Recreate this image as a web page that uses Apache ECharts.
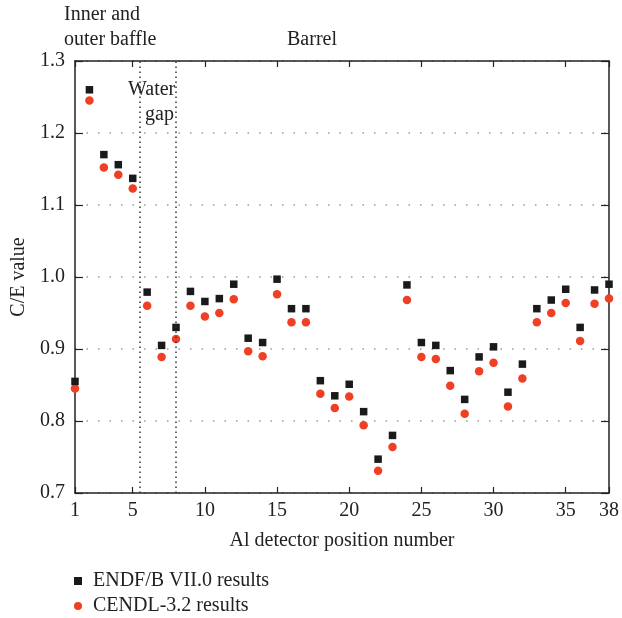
<!DOCTYPE html>
<html>
<head>
<meta charset="utf-8">
<script src="https://cdn.jsdelivr.net/npm/echarts@6/dist/echarts.min.js"></script>
<style>html,body{margin:0;padding:0;background:#fff}#c{width:622px;height:618px}</style>
</head>
<body>
<div id="c"></div>
<script>
const positions = [1,2,3,4,5,6,7,8,9,10,11,12,13,14,15,16,17,18,19,20,21,22,23,24,25,26,27,28,29,30,31,32,33,34,35,36,37,38];
const endfValues = [0.855,1.260,1.170,1.156,1.137,0.979,0.905,0.930,0.980,0.966,0.970,0.990,0.915,0.909,0.997,0.956,0.956,0.856,0.835,0.851,0.813,0.747,0.780,0.989,0.909,0.905,0.870,0.830,0.889,0.903,0.840,0.879,0.956,0.968,0.983,0.930,0.982,0.990];
const cendlValues = [0.845,1.245,1.152,1.142,1.123,0.960,0.889,0.914,0.960,0.945,0.950,0.969,0.897,0.890,0.976,0.937,0.937,0.838,0.818,0.834,0.794,0.731,0.764,0.968,0.889,0.886,0.849,0.810,0.869,0.881,0.820,0.859,0.937,0.950,0.964,0.911,0.963,0.970];
const xTickValues = [1,5,10,15,20,25,30,35,38];
const regionLines = [5.5, 8];
const seriesNames = ['ENDF/B VII.0 results','CENDL-3.2 results'];

const FONT = '"Liberation Serif","DejaVu Serif",serif';
const FS = 20;
const chart = echarts.init(document.getElementById('c'));
const pair = (ys) => positions.map((x,i)=>[x, ys[i]]);
const legendText = {fontFamily: FONT, fontSize: FS, color: '#222', padding: [0, 0, 0, 6]};

chart.setOption({
  animation: false,
  backgroundColor: '#fff',
  textStyle: {fontFamily: FONT},
  grid: {left: 75, right: 11, top: 61, bottom: 125, containLabel: false},
  xAxis: [{
    type: 'value', min: 1, max: 38, position: 'bottom',
    name: 'Al detector position number', nameLocation: 'middle', nameGap: 38,
    nameTextStyle: {fontFamily: FONT, fontSize: FS, color: '#222'},
    axisLine: {lineStyle: {color: '#222', width: 1.5}},
    axisTick: {inside: true, length: 6, lineStyle: {color: '#222', width: 1.2}, customValues: xTickValues},
    axisLabel: {fontFamily: FONT, fontSize: FS, color: '#222', margin: 8, customValues: xTickValues},
    splitLine: {show: false}
  },{
    type: 'value', min: 1, max: 38, position: 'top',
    axisLine: {lineStyle: {color: '#222', width: 1.5}},
    axisTick: {inside: true, length: 6, lineStyle: {color: '#222', width: 1.2}, customValues: xTickValues},
    axisLabel: {show: false},
    splitLine: {show: false}
  }],
  yAxis: [{
    type: 'value', min: 0.7, max: 1.3, interval: 0.1, position: 'left',
    name: 'C/E value', nameLocation: 'middle', nameGap: 46, nameRotate: 90,
    nameTextStyle: {fontFamily: FONT, fontSize: FS, color: '#222'},
    axisLine: {show: true, lineStyle: {color: '#222', width: 1.5}},
    axisTick: {show: true, inside: true, length: 8, lineStyle: {color: '#222', width: 1.2}},
    axisLabel: {fontFamily: FONT, fontSize: FS, color: '#222', margin: 10, formatter: v => v.toFixed(1)},
    splitLine: {show: true, lineStyle: {color: '#999', type: [1.5, 10], width: 1.5}}
  },{
    type: 'value', min: 0.7, max: 1.3, interval: 0.1, position: 'right',
    axisLine: {show: true, lineStyle: {color: '#222', width: 1.5}},
    axisTick: {show: true, inside: true, length: 8, lineStyle: {color: '#222', width: 1.2}},
    axisLabel: {show: false},
    splitLine: {show: false}
  }],
  legend: [{
    left: 74, top: 571, padding: 0, itemWidth: 8, itemHeight: 8, itemGap: 0,
    textStyle: legendText,
    data: [{name: seriesNames[0], icon: 'rect'}]
  },{
    left: 74, top: 596, padding: 0, itemWidth: 8, itemHeight: 8, itemGap: 0,
    textStyle: legendText,
    data: [{name: seriesNames[1], icon: 'circle'}]
  }],
  graphic: [
    {type: 'text', left: 64, top: 5, style: {text: 'Inner and', font: FS + 'px ' + FONT, fill: '#222'}},
    {type: 'text', left: 64, top: 30, style: {text: 'outer baffle', font: FS + 'px ' + FONT, fill: '#222'}},
    {type: 'text', left: 287, top: 30, style: {text: 'Barrel', font: FS + 'px ' + FONT, fill: '#222'}},
    {type: 'text', left: 128, top: 80, style: {text: 'Water', font: FS + 'px ' + FONT, fill: '#222'}},
    {type: 'text', left: 145, top: 105, style: {text: 'gap', font: FS + 'px ' + FONT, fill: '#222'}}
  ],
  series: [{
    name: seriesNames[1], type: 'scatter', data: pair(cendlValues),
    symbol: 'circle', symbolSize: 8.5,
    itemStyle: {color: '#ef3f24', opacity: 1},
    markLine: {
      silent: true, symbol: ['none','none'], label: {show: false},
      lineStyle: {color: '#333', type: [1.5, 3.5], width: 1.5},
      data: regionLines.map(v => ({xAxis: v}))
    }
  },{
    name: seriesNames[0], type: 'scatter', data: pair(endfValues),
    symbol: 'rect', symbolSize: 7.5,
    itemStyle: {color: '#1a1a1a', opacity: 1}
  }]
});
</script>
</body>
</html>
